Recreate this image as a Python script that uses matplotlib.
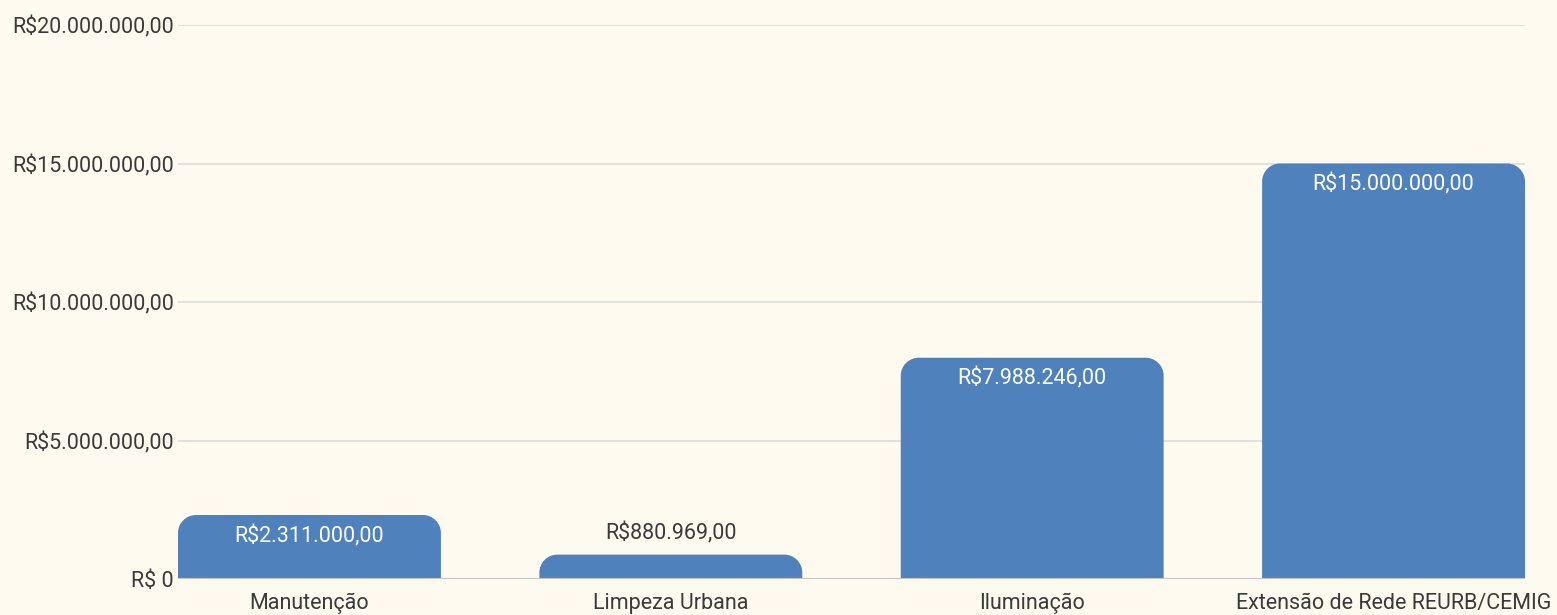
import matplotlib
matplotlib.use("Agg")
import matplotlib.pyplot as plt
from matplotlib.path import Path
from matplotlib.patches import PathPatch

categories = ["Manutenção", "Limpeza Urbana", "Iluminação", "Extensão de Rede REURB/CEMIG"]
values = [2311000, 880969, 7988246, 15000000]
value_labels = ["R$2.311.000,00", "R$880.969,00", "R$7.988.246,00", "R$15.000.000,00"]
yticks = [0, 5000000, 10000000, 15000000, 20000000]
ytick_labels = ["R$ 0", "R$5.000.000,00", "R$10.000.000,00", "R$15.000.000,00", "R$20.000.000,00"]

BG = "#fefaf0"
BAR = "#4f81bd"
TXT = "#3a3a3a"

plt.rcParams["font.family"] = ["Roboto", "DejaVu Sans"]

fig = plt.figure(figsize=(15.57, 6.15), dpi=100, facecolor=BG)
ax = fig.add_axes([178 / 1557, 36 / 615, (1525 - 178) / 1557, (579 - 25) / 615])
ax.set_facecolor(BG)

width = 0.7275
x = list(range(len(categories)))
ax.set_xlim(-width / 2, x[-1] + width / 2)
ax.set_ylim(0, 20000000)

# grid
for t in yticks[1:]:
    ax.axhline(t, color="#dcdcdc", lw=1.2, zorder=0)
ax.axhline(0, color="#c4c4c4", lw=1.5, zorder=3)


def rounded_top(x0, w, h, rpx):
    # corner radius given in pixels, convert to data units
    sx = (ax.get_xlim()[1] - ax.get_xlim()[0]) / (ax.bbox.width)
    sy = (ax.get_ylim()[1] - ax.get_ylim()[0]) / (ax.bbox.height)
    rx = rpx * sx
    ry = min(rpx * sy, h)
    k = 0.5523
    x1 = x0 + w
    verts = [(x0, 0), (x0, h - ry),
             (x0, h - ry + k * ry), (x0 + rx - k * rx, h), (x0 + rx, h),
             (x1 - rx, h),
             (x1 - rx + k * rx, h), (x1, h - ry + k * ry), (x1, h - ry),
             (x1, 0), (x0, 0)]
    codes = [Path.MOVETO, Path.LINETO,
             Path.CURVE4, Path.CURVE4, Path.CURVE4,
             Path.LINETO,
             Path.CURVE4, Path.CURVE4, Path.CURVE4,
             Path.LINETO, Path.CLOSEPOLY]
    return PathPatch(Path(verts, codes), facecolor=BAR, edgecolor="none", zorder=2)


px_per_val = ax.bbox.height / 20000000
for xi, v, lab in zip(x, values, value_labels):
    ax.add_patch(rounded_top(xi - width / 2, width, v, 18))
    if v * px_per_val > 45:
        ax.annotate(lab, (xi, v), xytext=(0, -21), textcoords="offset pixels",
                    ha="center", va="center", color="white", fontsize=15.5, zorder=4)
    else:
        ax.annotate(lab, (xi, v), xytext=(0, 21), textcoords="offset pixels",
                    ha="center", va="center", color=TXT, fontsize=15.5, zorder=4)

ax.set_yticks(yticks)
ax.set_yticklabels(ytick_labels)
ax.set_xticks(x)
ax.set_xticklabels(categories)
ax.tick_params(axis="both", length=0, labelsize=15.5, labelcolor=TXT)
ax.tick_params(axis="y", pad=3)
ax.tick_params(axis="x", pad=10)
for s in ax.spines.values():
    s.set_visible(False)

fig.savefig("out.png", dpi=100, facecolor=BG)
